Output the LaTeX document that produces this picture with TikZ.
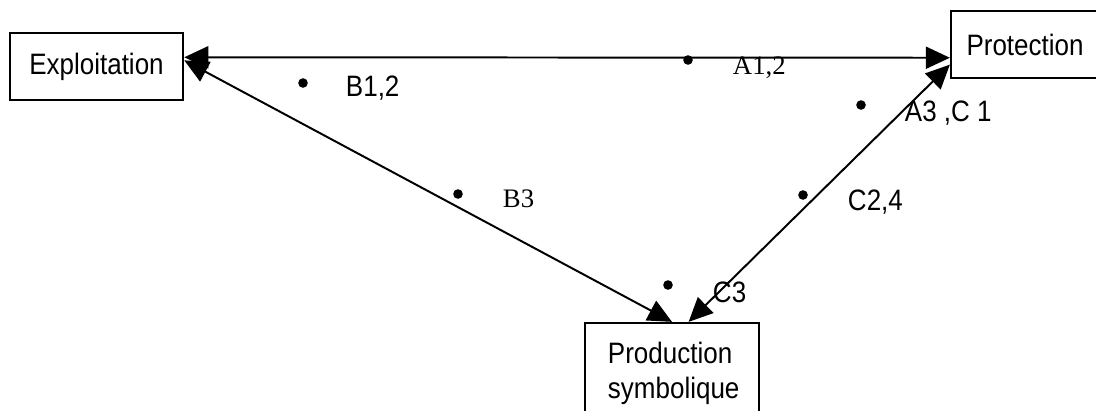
\documentclass[tikz,border=0pt]{standalone}
\usepackage{fontspec}
\setmainfont{Liberation Serif}
\setsansfont{Liberation Sans}[FakeStretch=0.88]
\usetikzlibrary{arrows.meta}
\tikzset{
  cadre/.style={draw, line width=1.6pt, fill=white, minimum height=1.68cm,
    font=\sffamily\fontsize{21}{25}\selectfont},
  fleche/.style={{Triangle[length=0.6cm,width=0.55cm]}-{Triangle[length=0.6cm,width=0.55cm]}},
  point/.style={circle, fill, inner sep=0pt, minimum size=0.24cm},
  etiq/.style={anchor=west, inner sep=0pt, font=\sffamily\fontsize{21}{25}\selectfont},
  etiqr/.style={anchor=west, inner sep=0pt, font=\fontsize{19}{23}\selectfont}
}
\begin{document}
\begin{tikzpicture}[x=0.025cm, y=-0.025cm, line width=1.4pt, line join=miter]
  \clip (0,0) rectangle (1096,410);
  % les cadres
  \node[cadre, minimum width=4.33cm] (expl) at (96.5,66.5) {Exploitation};
  \node[cadre, minimum width=3.7cm] (prot) at (1025,44.5) {Protection};
  \node[cadre, minimum width=4.35cm, minimum height=2.5cm, text width=3.2cm,
    inner xsep=0.575cm, align=left] (prod) at (672,373) {Production\\symbolique};
  % les flèches
  \draw[fleche] (expl.6) -- (prot.190);
  \draw[fleche] (expl.4) -- (prod.north);
  \draw[fleche] (prot.195) -- (prod.72);
  % les points et leurs repères
  \node[point] (pA) at (688,60) {};
  \node[etiqr] (tA) at (732,68) {A1,2};
  \node[point] (pB) at (303,83) {};
  \node[etiq] (tB) at (345,88) {B1,2};
  \node[point] (pB3) at (458,194) {};
  \node[etiqr] (tB3) at (502,199) {B3};
  \node[point] (pAC) at (861,105) {};
  \node[etiq] (tAC) at (904,113) {A3 ,C 1};
  \node[point] (pC) at (803,195) {};
  \node[etiq] (tC) at (847,202) {C2,4};
  \node[point] (pC3) at (668,285) {};
  \node[etiq] (tC3) at (712,292) {C3};
\end{tikzpicture}
\end{document}
